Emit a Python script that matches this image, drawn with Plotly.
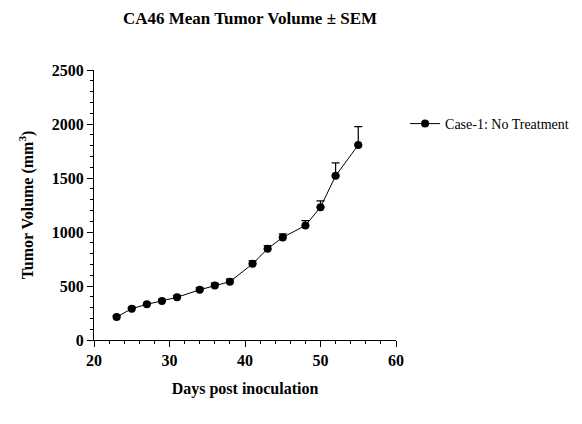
import plotly.graph_objects as go

days = [23, 25, 27, 29, 31, 34, 36, 38, 41, 43, 45, 48, 50, 52, 55]
mean_volume = [213, 290, 330, 360, 395, 465, 505, 540, 705, 845, 950, 1060, 1230, 1520, 1805]
sem = [12, 14, 15, 16, 18, 20, 22, 24, 28, 30, 32, 45, 58, 120, 170]
series_name = "Case-1: No Treatment"
x_ticks = [20, 30, 40, 50, 60]
y_ticks = [0, 500, 1000, 1500, 2000, 2500]

fig = go.Figure()
fig.add_trace(go.Scatter(
    x=days, y=mean_volume, name=series_name, mode="lines+markers",
    line=dict(color="black", width=1),
    marker=dict(color="black", size=8, symbol="circle"),
    error_y=dict(type="data", array=sem, arrayminus=[0]*len(sem), symmetric=False,
                 color="black", thickness=1.2, width=4),
))

font_family = "Liberation Serif"
fig.update_layout(
    width=582, height=424,
    margin=dict(l=86, r=194, t=62, b=92, autoexpand=False),
    paper_bgcolor="white", plot_bgcolor="white",
    font=dict(family=font_family, color="black"),
    title=dict(text="<b>CA46 Mean Tumor Volume ± SEM</b>", x=242/582, xanchor="center",
               y=1-10/424, yanchor="middle", font=dict(size=17, family=font_family)),
    showlegend=True,
    legend=dict(x=1.03, y=0.8, xanchor="left", yanchor="middle",
                font=dict(size=14, family=font_family), bgcolor="rgba(0,0,0,0)"),
    xaxis=dict(range=[20, 60], tickvals=x_ticks, ticktext=[f"<b>{v}</b>" for v in x_ticks],
               ticks="outside", ticklen=6, automargin=False,
               tickwidth=1, tickcolor="black", showline=True, linecolor="black", linewidth=1,
               showgrid=False, zeroline=False,
               tickfont=dict(size=16, family=font_family),
               minor=dict(dtick=2, ticks="outside", ticklen=3, tickcolor="black", showgrid=False),
               title=dict(text="<b>Days post inoculation</b>", font=dict(size=16, family=font_family), standoff=14)),
    yaxis=dict(range=[0, 2500], tickvals=y_ticks, ticktext=[f"<b>{v}</b>" for v in y_ticks],
               ticks="outside", ticklen=6, automargin=False,
               tickwidth=1, tickcolor="black", showline=True, linecolor="black", linewidth=1,
               showgrid=False, zeroline=False,
               tickfont=dict(size=16, family=font_family),
               minor=dict(dtick=100, ticks="outside", ticklen=3, tickcolor="black", showgrid=False),
               title=dict(text="<b>Tumor Volume (mm<sup>3</sup>)</b>", font=dict(size=16, family=font_family), standoff=14)),
)

fig.write_html("out.html")
